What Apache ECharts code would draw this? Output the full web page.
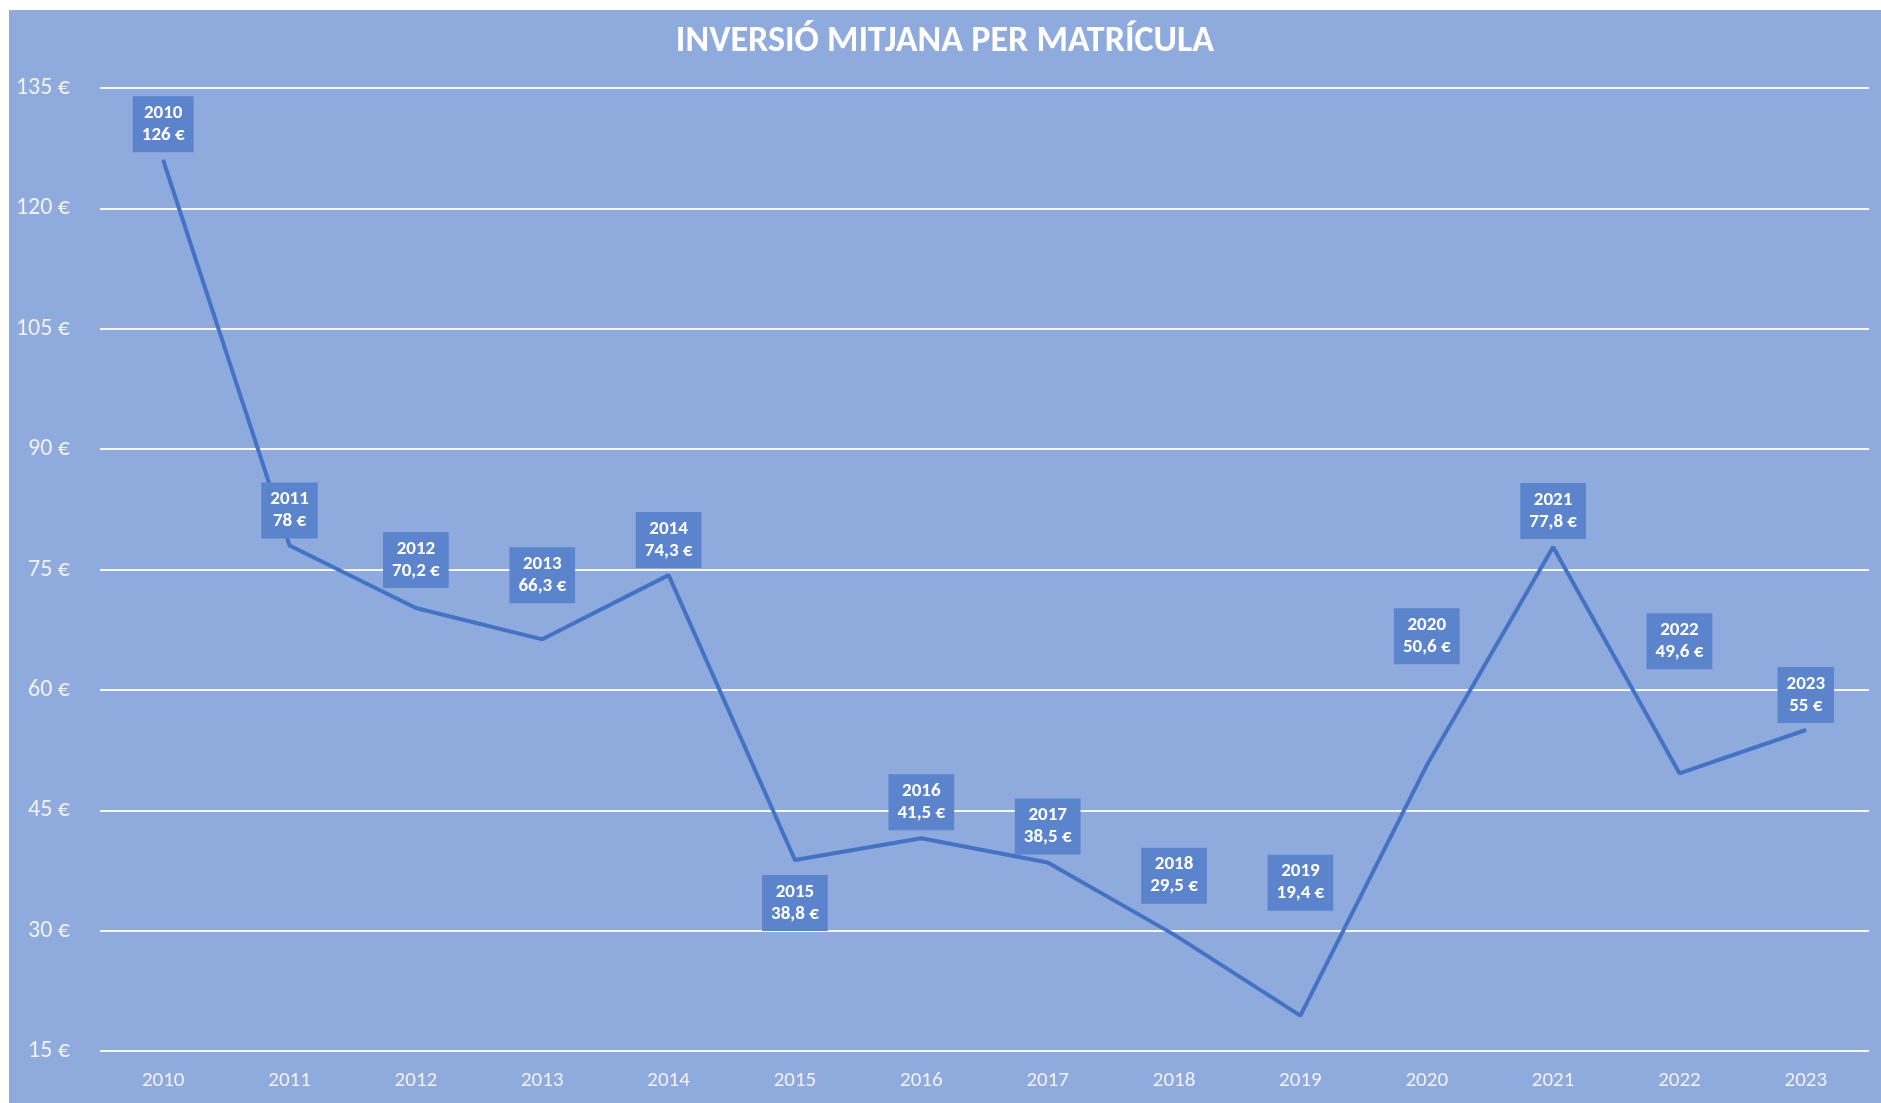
<!DOCTYPE html>
<html>
<head>
<meta charset="utf-8">
<script src="https://cdn.jsdelivr.net/npm/echarts@6/dist/echarts.min.js"></script>
<style>
  html, body { margin: 0; padding: 0; background: #ffffff; }
  #chart { position: absolute; left: 9px; top: 10px; width: 1872px; height: 1093px; background: #8faadc; }
</style>
</head>
<body>
<div id="chart"></div>
<script>
// anys i inversió mitjana per matrícula (€)
const years = ['2010', '2011', '2012', '2013', '2014', '2015', '2016', '2017', '2018', '2019', '2020', '2021', '2022', '2023']
const investment = [126, 78, 70.2, 66.3, 74.3, 38.8, 41.5, 38.5, 29.5, 19.4, 50.6, 77.8, 49.6, 55]
const yTicks = [15, 30, 45, 60, 75, 90, 105, 120, 135]

// desplaçament vertical de cada etiqueta respecte al punt (px), com a l'original
const labelShift = [-36, -35, -48, -64, -35, 43, -36, -36, -59, -133, -129, -36, -132, -35]

const font = 'Carlito, Lato, "Open Sans", sans-serif'

const fmt = v => String(v).replace('.', ',') + ' €'

let myChart = echarts.init(document.getElementById('chart'))

let seriesData = investment.map((v, i) => ({
  value: v,
  label: { offset: [0, labelShift[i]] }
}))

myChart.setOption({
  animation: false,
  title: {
    text: 'INVERSIÓ MITJANA PER MATRÍCULA',
    left: 'center',
    top: 9,
    textStyle: { color: '#ffffff', fontFamily: font, fontWeight: 'bold', fontSize: 36 }
  },
  grid: { left: 91, right: 12, top: 78, bottom: 52 },
  xAxis: {
    type: 'category',
    data: years,
    boundaryGap: true,
    axisLine: { show: false },
    axisTick: { show: false },
    axisLabel: { color: '#f2f2f2', fontFamily: font, fontSize: 21, margin: 19 }
  },
  yAxis: {
    type: 'value',
    min: yTicks[0],
    max: yTicks[yTicks.length - 1],
    interval: 15,
    axisLine: { show: false },
    axisTick: { show: false },
    axisLabel: {
      color: '#f2f2f2', fontFamily: font, fontSize: 24, margin: 30,
      formatter: '{value} €'
    },
    splitLine: { lineStyle: { color: '#f4f6fa', width: 2 } }
  },
  series: [
    {
      type: 'line',
      data: seriesData,
      symbol: 'circle',
      symbolSize: 2,
      itemStyle: { color: '#4472c4' },
      lineStyle: { color: '#4472c4', width: 4 },
      label: {
        show: true,
        position: 'inside',
        backgroundColor: '#5b84cd',
        padding: [6, 9],
        color: '#ffffff',
        fontFamily: font,
        fontWeight: 'bold',
        fontSize: 19,
        lineHeight: 22,
        align: 'center',
        formatter: p => years[p.dataIndex] + '\n' + fmt(p.value)
      }
    }
  ]
})
</script>
</body>
</html>
